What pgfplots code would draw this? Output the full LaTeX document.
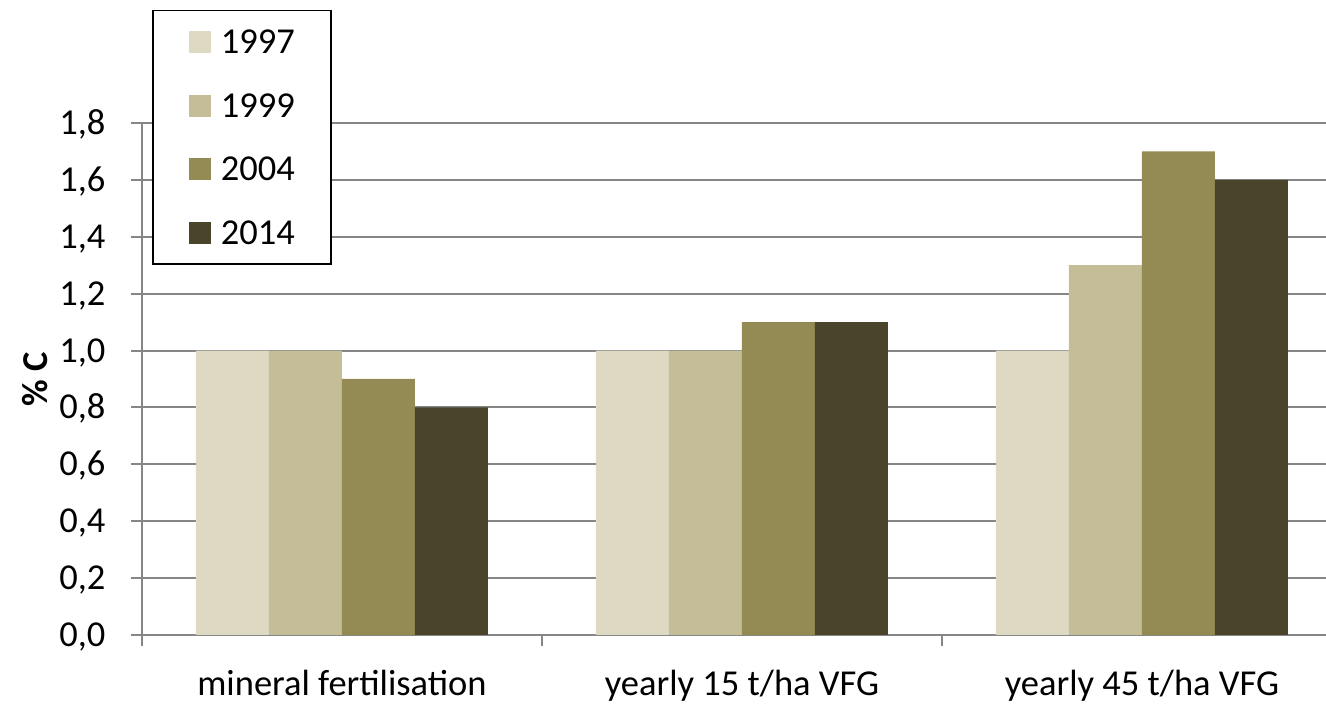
\documentclass[border=0pt]{standalone}
\usepackage{pgfplots}
\pgfplotsset{compat=1.18}
\usepackage{fontspec}
\setmainfont{Carlito}
\definecolor{c1}{HTML}{DDD9C3}
\definecolor{c2}{HTML}{C4BD97}
\definecolor{c3}{HTML}{948A54}
\definecolor{c4}{HTML}{4A452A}
\definecolor{gridgray}{HTML}{868686}
\pgfplotsset{sqlegend/.style={legend image code/.code={\fill[##1] (0pt,-11pt) rectangle (22pt,11pt);}}}
\newcommand{\bigf}{\fontsize{36.5}{44}\selectfont}
\begin{document}
\begin{tikzpicture}
\useasboundingbox (-142pt,-69pt) rectangle (1184pt,635pt);
\begin{axis}[
  scale only axis, width=1184pt, height=512pt,
  xmin=-0.5, xmax=2.46, ymin=0, ymax=1.8,
  ybar=0pt, bar width=0.1825,
  axis x line=bottom, axis y line=left,
  axis line style={draw=gridgray, line width=2pt, -},
  tick align=outside, major tick length=11pt,
  tick style={draw=gridgray, line width=2pt},
  ymajorgrids, grid style={draw=gridgray, line width=2pt},
  ytick={0,0.2,0.4,0.6,0.8,1.0,1.2,1.4,1.6,1.8},
  yticklabel style={/pgf/number format/fixed, /pgf/number format/fixed zerofill, /pgf/number format/precision=1, /pgf/number format/use comma, /pgf/number format/assume math mode=true, font=\bigf, anchor=base east, yshift=-11.5pt, xshift=-22pt},
  xtick={-0.5,0.5,1.5}, xticklabels={,,},
  extra x ticks={0,1,2},
  extra x tick labels={mineral fertilisation, yearly 15 t/ha VFG, yearly 45 t/ha VFG},
  extra x tick style={major tick length=0pt, xticklabel style={font=\bigf, anchor=base, yshift=-60pt}},
  ylabel={\% C},
  every axis y label/.style={at={(rel axis cs:0,0.5)}, xshift=-107pt, rotate=90, anchor=center, font=\bfseries\bigf},
  legend style={at={(rel axis cs:0.00845,1.2207)}, anchor=north west, draw=black, line width=1.5pt, fill=white,
    font=\bigf, inner xsep=36pt, inner ysep=20pt, row sep=40.5pt, column sep=10pt,
    nodes={inner sep=0pt, text height=23pt, text depth=0pt}},
  legend cell align=left,
]
\addplot[fill=c1, draw=none, sqlegend] coordinates {(0,1.0) (1,1.0) (2,1.0)};
\addplot[fill=c2, draw=none, sqlegend] coordinates {(0,1.0) (1,1.0) (2,1.3)};
\addplot[fill=c3, draw=none, sqlegend] coordinates {(0,0.9) (1,1.1) (2,1.7)};
\addplot[fill=c4, draw=none, sqlegend] coordinates {(0,0.8) (1,1.1) (2,1.6)};
\legend{1997,1999,2004,2014}
\end{axis}
\end{tikzpicture}
\end{document}
